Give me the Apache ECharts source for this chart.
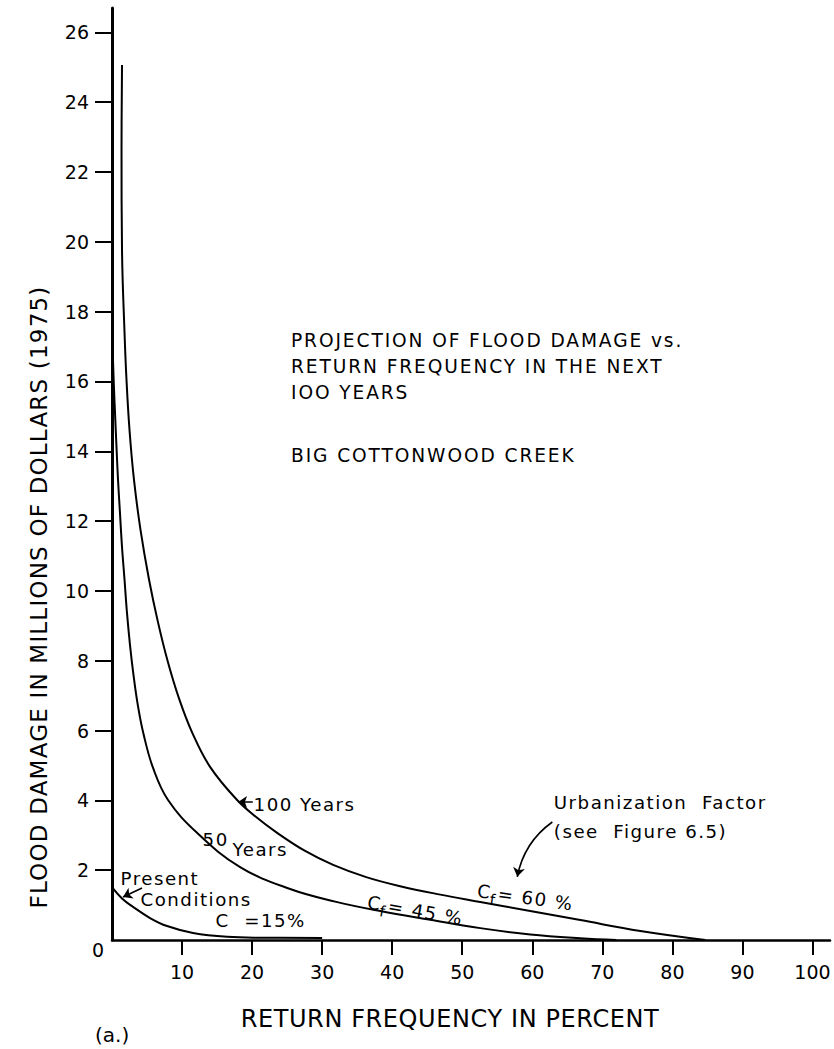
<!DOCTYPE html>
<html>
<head>
<meta charset="UTF-8">
<title>Flood damage vs return frequency</title>
<script src="https://cdn.jsdelivr.net/npm/echarts@6/dist/echarts.min.js"></script>
<style>
  html, body { margin: 0; padding: 0; background: #fff; }
  #main { width: 834px; height: 1049px; }
  /* lettering in the original is widely spaced */
  #main [style*="18.2px"] { letter-spacing: 1.5px; }
  #main [style*="18.6px"] { letter-spacing: 1.9px; }
  #main [style*="24px"] { letter-spacing: 0.6px; }
  #main [style*="23px"] { letter-spacing: 1.2px; }
</style>
</head>
<body>
<div id="main"></div>
<script>
// axis ticks
var xTicks = [10, 20, 30, 40, 50, 60, 70, 80, 90, 100];
var yTicks = [2, 4, 6, 8, 10, 12, 14, 16, 18, 20, 22, 24, 26];
var yLabels = [0, 2, 4, 6, 8, 10, 12, 14, 16, 18, 20, 22, 24, 26];

// curves: [return frequency %, damage $M]
var presentC15 = [[0.05, 1.5], [1.43, 1.19], [3, 0.95], [5.43, 0.63], [7.86, 0.4],
  [11.57, 0.2], [16.43, 0.09], [21, 0.065], [30, 0.06]];
var years50 = [[0.07, 17.05], [0.14, 16.62], [0.29, 15.76], [0.43, 15.1], [0.64, 14.13], [0.86, 13.18],
  [1.14, 12.23], [1.43, 11.26], [1.79, 10.32], [2.14, 9.37], [2.57, 8.45], [3.07, 7.59], [3.71, 6.7],
  [4.5, 5.9], [5.86, 4.93], [8.0, 4.01], [12.14, 3.07], [18.29, 2.09], [25.43, 1.46], [31.86, 1.1],
  [38.29, 0.83], [45.43, 0.58], [52.57, 0.34], [59.71, 0.16], [66.86, 0.05], [72, 0.0]];
var years100 = [[1.43, 25.07], [1.36, 22.64], [1.43, 19.77], [1.79, 17.39], [2.07, 16.05], [2.5, 14.61],
  [3.14, 13.18], [4.07, 11.75], [5.29, 10.32], [6.57, 9.1], [8.0, 7.95], [9.6, 6.9], [11.43, 5.95],
  [14.0, 4.96], [17.86, 4.01], [20.71, 3.5], [23.57, 3.07], [27.57, 2.55], [31.57, 2.15], [36.29, 1.8],
  [41.14, 1.54], [46.86, 1.3], [52.57, 1.09], [59.71, 0.83], [66.86, 0.57], [75.43, 0.26], [84.71, 0]];

// text notes on the plot: [x, y, text, rotate]
var notes = [
  [1.14, 1.75, 'Present', 0],
  [4.0, 1.15, 'Conditions', 0],
  [14.7, 0.57, 'C  =15%', 0],
  [12.86, 2.87, '50', 0],
  [17.14, 2.58, 'Years', 0],
  [20.14, 3.87, '100 Years', 0],
  [63, 3.93, 'Urbanization  Factor', 0],
  [63, 3.12, '(see  Figure 6.5)', 0]
];
var cfNotes = [
  [43, 0.86, '45', -10],
  [58.7, 1.23, '60', -8]
];
// arrows: from, to, curveness
var arrows = [
  [[4.29, 1.49], [1.57, 1.23], 0],
  [[20.1, 3.95], [18.0, 3.95], 0],
  [[62.86, 3.38], [57.86, 1.81], -0.2]
];

var black = '#000';
var font = 'DejaVu Sans';

var chart = echarts.init(document.getElementById('main'), null, { renderer: 'svg' });

var noteData = notes.map(function (n) {
  return {
    value: [n[0], n[1]],
    label: { position: 'right', distance: 0, formatter: n[2], rotate: n[3], color: black, opacity: 1 }
  };
});
cfNotes.forEach(function (n) {
  noteData.push({
    value: [n[0], n[1]],
    label: {
      position: 'inside', rotate: n[3], color: black, opacity: 1,
      formatter: '{c|C}{s|f}{c| = ' + n[2] + ' %}'
    }
  });
});

function curve(name, data) {
  return {
    name: name, type: 'line', data: data, smooth: 0.4,
    showSymbol: false, lineStyle: { color: black, width: 2 }, silent: true
  };
}

var option = {
  animation: false,
  backgroundColor: '#fff',
  textStyle: { fontFamily: font, color: black },
  title: [{
    text: 'PROJECTION OF FLOOD DAMAGE vs.\nRETURN FREQUENCY IN THE NEXT\nIOO YEARS',
    left: 286, top: 322,
    textStyle: { fontFamily: font, fontSize: 18.6, fontWeight: 'normal', lineHeight: 26, color: black }
  }, {
    text: 'BIG COTTONWOOD CREEK',
    left: 286, top: 441,
    textStyle: { fontFamily: font, fontSize: 18.6, fontWeight: 'normal', color: black }
  }, {
    text: '(a.)',
    left: 90, top: 1020,
    textStyle: { fontFamily: font, fontSize: 20, fontWeight: 'normal', color: black }
  }],
  grid: { left: 112, right: 4, top: 8, bottom: 109 },
  xAxis: {
    type: 'value', min: 0, max: 102.5,
    axisLine: { show: true, lineStyle: { color: black, width: 2.5 } },
    axisTick: { show: true, customValues: xTicks, length: 15, lineStyle: { color: black, width: 2 } },
    axisLabel: { customValues: xTicks, margin: 22, fontSize: 19, color: black, fontFamily: font },
    splitLine: { show: false },
    name: 'RETURN FREQUENCY IN PERCENT',
    nameLocation: 'middle', nameGap: 67,
    nameTextStyle: { fontSize: 24, color: black, fontFamily: font, padding: [0, 42, 0, 0] }
  },
  yAxis: {
    type: 'value', min: 0, max: 26.7,
    axisLine: { show: true, lineStyle: { color: black, width: 3 } },
    axisTick: { show: true, customValues: yTicks, length: 17, lineStyle: { color: black, width: 2 } },
    axisLabel: {
      customValues: yLabels, margin: 23, fontSize: 19, color: black, fontFamily: font,
      formatter: function (v) { return v === 0 ? '{z|0}' : String(v); },
      rich: { z: { fontSize: 19, fontFamily: font, color: black, padding: [20, -15, 0, 0] } }
    },
    splitLine: { show: false },
    name: 'FLOOD DAMAGE IN MILLIONS OF DOLLARS (1975)',
    nameLocation: 'middle', nameGap: 62, nameRotate: 90,
    nameTextStyle: { fontSize: 23, color: black, fontFamily: font, padding: [0, 246, 0, 0] }
  },
  series: [
    curve('Present conditions', presentC15),
    curve('50 Years', years50),
    curve('100 Years', years100),
    {
      type: 'lines', coordinateSystem: 'cartesian2d', silent: true,
      symbol: ['none', 'arrow'], symbolSize: 9,
      lineStyle: { color: black, width: 1.6, opacity: 1 },
      data: arrows.map(function (a) {
        return { coords: [a[0], a[1]], lineStyle: { curveness: a[2] } };
      })
    }, {
      type: 'scatter', symbolSize: 1, silent: true,
      itemStyle: { color: 'rgba(0,0,0,0)' },
      label: {
        show: true, color: black, opacity: 1, fontFamily: font, fontSize: 18.2,
        rich: {
          c: { fontSize: 18.2, fontFamily: font, color: black },
          s: { fontSize: 15, fontFamily: font, color: black, verticalAlign: 'top', padding: [14, 0, 0, 0] }
        }
      },
      data: noteData
    }
  ]
};

chart.setOption(option);
</script>
</body>
</html>
